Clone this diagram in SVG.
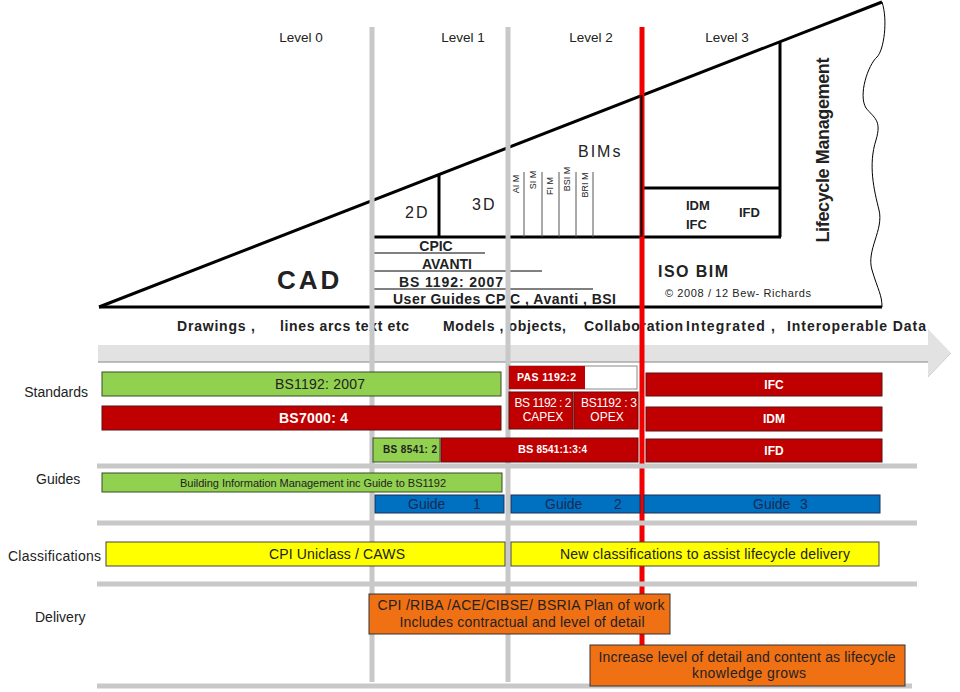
<svg xmlns="http://www.w3.org/2000/svg" width="960" height="692" viewBox="0 0 960 692">
<style>
.t{font-family:"Liberation Sans",Arial,sans-serif;fill:#222}
.b{font-weight:bold}
.lbl{font-family:"Liberation Sans",Arial,sans-serif;font-size:14px;fill:#222}
.blk{stroke:#000;stroke-width:3;fill:none}
.thin{stroke:#000;stroke-width:1;fill:none}
.tk{stroke:#555;stroke-width:1;fill:none}
.gv{stroke:#c8c8c8;stroke-width:5}
.gh{stroke:#c8c8c8;stroke-width:5}
.red{fill:#c00000;stroke:#5a1010;stroke-width:1}
.grn{fill:#92d050;stroke:#3a4a2a;stroke-width:1}
.blu{fill:#0070c0;stroke:#1f2f50;stroke-width:1}
.yel{fill:#ffff00;stroke:#444;stroke-width:1}
.org{fill:#f07014;stroke:#333;stroke-width:1}
.wt{font-family:"Liberation Sans",Arial,sans-serif;fill:#fff}
.nv{font-family:"Liberation Sans",Arial,sans-serif;font-size:14px;fill:#1a2a55}
</style>
<rect width="960" height="692" fill="#fff"/>

<g id="pyramid">
  <path class="blk" d="M99,307 L882,2"/>
  <path class="blk" d="M99,307 L882,307"/>
  <path class="thin" d="M882,2 C888,20 884,50 877,57 C868,65 858,95 866,108 C874,118 882,120 876,140 C868,165 874,190 879,210 C884,230 866,250 872,270 C878,290 882,295 882,307"/>
  <path class="blk" d="M372,237 L781,237"/>
  <path class="blk" d="M439,174 L439,237"/>
  <path class="blk" d="M780,42 L780,237"/>
  <path class="blk" d="M641,188 L781,188"/>
  <path class="thin" d="M372,253 L485,253 M372,271 L542,271 M372,289 L593,289"/>
  <path class="tk" d="M524,172 L524,237 M542,172 L542,237 M559,172 L559,237 M576,172 L576,237 M593,172 L593,237"/>
</g>

<g id="level-labels">
  <text class="t" font-size="13.5" x="301" y="42" text-anchor="middle">Level 0</text>
  <text class="t" font-size="13.5" x="463" y="42" text-anchor="middle">Level 1</text>
  <text class="t" font-size="13.5" x="591" y="42" text-anchor="middle">Level 2</text>
  <text class="t" font-size="13.5" x="727" y="42" text-anchor="middle">Level 3</text>
</g>

<g id="cad">
  <text class="t b" font-size="26" x="277" y="289" letter-spacing="3" fill="#111">CAD</text>
</g>
<g id="d2"><text class="t" font-size="16" x="405" y="218" letter-spacing="2">2D</text></g>
<g id="d3"><text class="t" font-size="16" x="472" y="210" letter-spacing="2">3D</text></g>
<g id="bims">
  <text class="t" font-size="16" x="578" y="157" letter-spacing="2">BIMs</text>
  <text class="t" font-size="9" transform="translate(519,184) rotate(-90)" text-anchor="middle">AI M</text>
  <text class="t" font-size="9" transform="translate(536,180) rotate(-90)" text-anchor="middle">SI M</text>
  <text class="t" font-size="9" transform="translate(553,186) rotate(-90)" text-anchor="middle">FI M</text>
  <text class="t" font-size="9" transform="translate(570,179) rotate(-90)" text-anchor="middle">BSI M</text>
  <text class="t" font-size="9" transform="translate(588,185) rotate(-90)" text-anchor="middle">BRI M</text>
</g>
<g id="level1-list">
  <text class="t b" font-size="14" x="436" y="251" text-anchor="middle" fill="#111">CPIC</text>
  <text class="t b" font-size="14" x="447" y="269" text-anchor="middle" fill="#111">AVANTI</text>
  <text class="t b" font-size="14" x="399" y="287" textLength="104" fill="#111">BS  1192: 2007</text>
  <text class="t b" font-size="14" x="393" y="304" textLength="223" fill="#111">User Guides CPIC , Avanti , BSI</text>
</g>
<g id="level3">
  <text class="t b" font-size="13" x="686" y="210" fill="#111">IDM</text>
  <text class="t b" font-size="13" x="686" y="229" fill="#111">IFC</text>
  <text class="t b" font-size="13" x="739" y="217" fill="#111">IFD</text>
  <text class="t b" font-size="16" x="658" y="277" textLength="70" fill="#111">ISO BIM</text>
  <text class="t" font-size="11" x="665" y="297" textLength="146">© 2008  / 12  Bew- Richards</text>
  <text class="t b" font-size="18" transform="translate(829,150) rotate(-90)" text-anchor="middle" textLength="185" fill="#111">Lifecycle Management</text>
</g>

<g id="timeline-arrow">
  <path d="M98,345 L928,345 L928,329 L951,353 L928,377 L928,362 L98,362 Z" fill="#e2e2e2"/>
  <path d="M98,362 L928,362" stroke="#a8a8a8" stroke-width="1.5"/>
  <path d="M928,377 L951,353" stroke="#d0d0d0" stroke-width="1"/>
</g>
<g id="timeline-text">
  <text class="t b" font-size="14" x="177" y="331" textLength="78" fill="#111">Drawings ,</text>
  <text class="t b" font-size="14" x="280" y="331" textLength="129" fill="#111">lines arcs text etc</text>
  <text class="t b" font-size="14" x="443" y="331" textLength="123" fill="#111">Models , objects,</text>
  <text class="t b" font-size="14" x="584" y="331" textLength="99" fill="#111">Collaboration</text>
  <text class="t b" font-size="14" x="686" y="331" textLength="89" fill="#111">Integrated ,</text>
  <text class="t b" font-size="14" x="787" y="331" textLength="139" fill="#111">Interoperable Data</text>
</g>

<g id="connectors">
  <path class="gv" d="M372,27 L372,682"/>
  <path class="gv" d="M508,27 L508,682"/>
  <path d="M642,27 L642,645" stroke="#f00000" stroke-width="5"/>
  <path d="M641.5,95 L641.5,237" stroke="#000" stroke-width="2"/>
  <path class="gh" d="M97,466 L917,466"/>
  <path class="gh" d="M97,523 L917,523"/>
  <path class="gh" d="M97,584 L917,584"/>
  <path class="gh" d="M97,686 L912,686"/>
</g>

<g id="row-labels">
  <text class="lbl" x="88" y="397" text-anchor="end">Standards</text>
  <text class="lbl" x="36" y="484">Guides</text>
  <text class="lbl" x="8" y="561" textLength="93">Classifications</text>
  <text class="lbl" x="35" y="622">Delivery</text>
</g>

<g id="bs1192-2007">
  <rect class="grn" x="102" y="372" width="399" height="24"/>
  <text class="t" font-size="14" x="275" y="389" textLength="90">BS1192: 2007</text>
</g>
<g id="bs7000">
  <rect class="red" x="102" y="406" width="399" height="24"/>
  <text class="wt b" font-size="14" x="279" y="423" textLength="69">BS7000:  4</text>
</g>
<g id="bs8541-2">
  <rect class="grn" x="373" y="438" width="67" height="24"/>
  <text class="t b" font-size="10" x="383" y="453" textLength="54">BS 8541: 2</text>
</g>
<g id="bs8541-134">
  <rect class="red" x="441" y="438" width="197" height="24"/>
  <text class="wt b" font-size="10" x="518" y="453" textLength="69"><tspan font-size="11">BS</tspan> 8541:1:3:4</text>
</g>
<g id="pas1192">
  <rect x="509" y="366" width="128" height="23" fill="#fff" stroke="#888" stroke-width="1"/>
  <rect x="509" y="366" width="76" height="23" fill="#c00000"/>
  <text class="wt b" font-size="10.5" x="517" y="381" textLength="59">PAS 1192:2</text>
</g>
<g id="bs1192-2">
  <rect class="red" x="509" y="392" width="64" height="37"/>
  <text class="wt" font-size="12" x="543" y="407" text-anchor="middle" textLength="57">BS 1192 : 2</text>
  <text class="wt" font-size="12" x="543" y="421" text-anchor="middle">CAPEX</text>
</g>
<g id="bs1192-3">
  <rect class="red" x="574" y="392" width="64" height="37"/>
  <text class="wt" font-size="12" x="609" y="407" text-anchor="middle" textLength="56">BS1192 : 3</text>
  <text class="wt" font-size="12" x="607" y="421" text-anchor="middle">OPEX</text>
</g>
<g id="ifc">
  <rect class="red" x="646" y="373" width="236" height="23"/>
  <text class="wt b" font-size="12" x="774" y="389" text-anchor="middle">IFC</text>
</g>
<g id="idm">
  <rect class="red" x="646" y="407" width="236" height="24"/>
  <text class="wt b" font-size="12" x="774" y="423" text-anchor="middle">IDM</text>
</g>
<g id="ifd">
  <rect class="red" x="646" y="439" width="236" height="23"/>
  <text class="wt b" font-size="12" x="774" y="455" text-anchor="middle">IFD</text>
</g>

<g id="bim-guide">
  <rect class="grn" x="102" y="473" width="400" height="19"/>
  <text class="t" font-size="11" x="180" y="487" textLength="266">Building Information Management inc Guide to BS1192</text>
</g>
<g id="guide1">
  <rect class="blu" x="375" y="495" width="129" height="18"/>
  <text class="nv" x="408" y="509">Guide</text><text class="nv" x="473" y="509">1</text>
</g>
<g id="guide2">
  <rect class="blu" x="511" y="495" width="129" height="18"/>
  <text class="nv" x="545" y="509">Guide</text><text class="nv" x="614" y="509">2</text>
</g>
<g id="guide3">
  <rect class="blu" x="644" y="495" width="236" height="18"/>
  <text class="nv" x="753" y="509">Guide</text><text class="nv" x="800" y="509">3</text>
</g>

<g id="cpi-uniclass">
  <rect class="yel" x="106" y="542" width="399" height="24"/>
  <text class="t" font-size="14" x="337" y="559" text-anchor="middle" textLength="136">CPI Uniclass / CAWS</text>
</g>
<g id="new-classifications">
  <rect class="yel" x="511" y="542" width="368" height="24"/>
  <text class="t" font-size="14" x="705" y="559" text-anchor="middle" textLength="290">New classifications to assist lifecycle delivery</text>
</g>

<g id="plan-of-work">
  <rect class="org" x="369" y="594" width="301" height="40"/>
  <text class="t" font-size="14" x="521" y="610" text-anchor="middle" textLength="287">CPI /RIBA /ACE/CIBSE/ BSRIA Plan of work</text>
  <text class="t" font-size="14" x="522" y="627" text-anchor="middle" textLength="245">Includes contractual and level of detail</text>
</g>
<g id="increase-detail">
  <rect class="org" x="590" y="645" width="315" height="41"/>
  <text class="t" font-size="14" x="747" y="662" text-anchor="middle" textLength="297">Increase level of detail and content as lifecycle</text>
  <text class="t" font-size="14" x="749" y="678" text-anchor="middle" textLength="114">knowledge grows</text>
</g>
</svg>
